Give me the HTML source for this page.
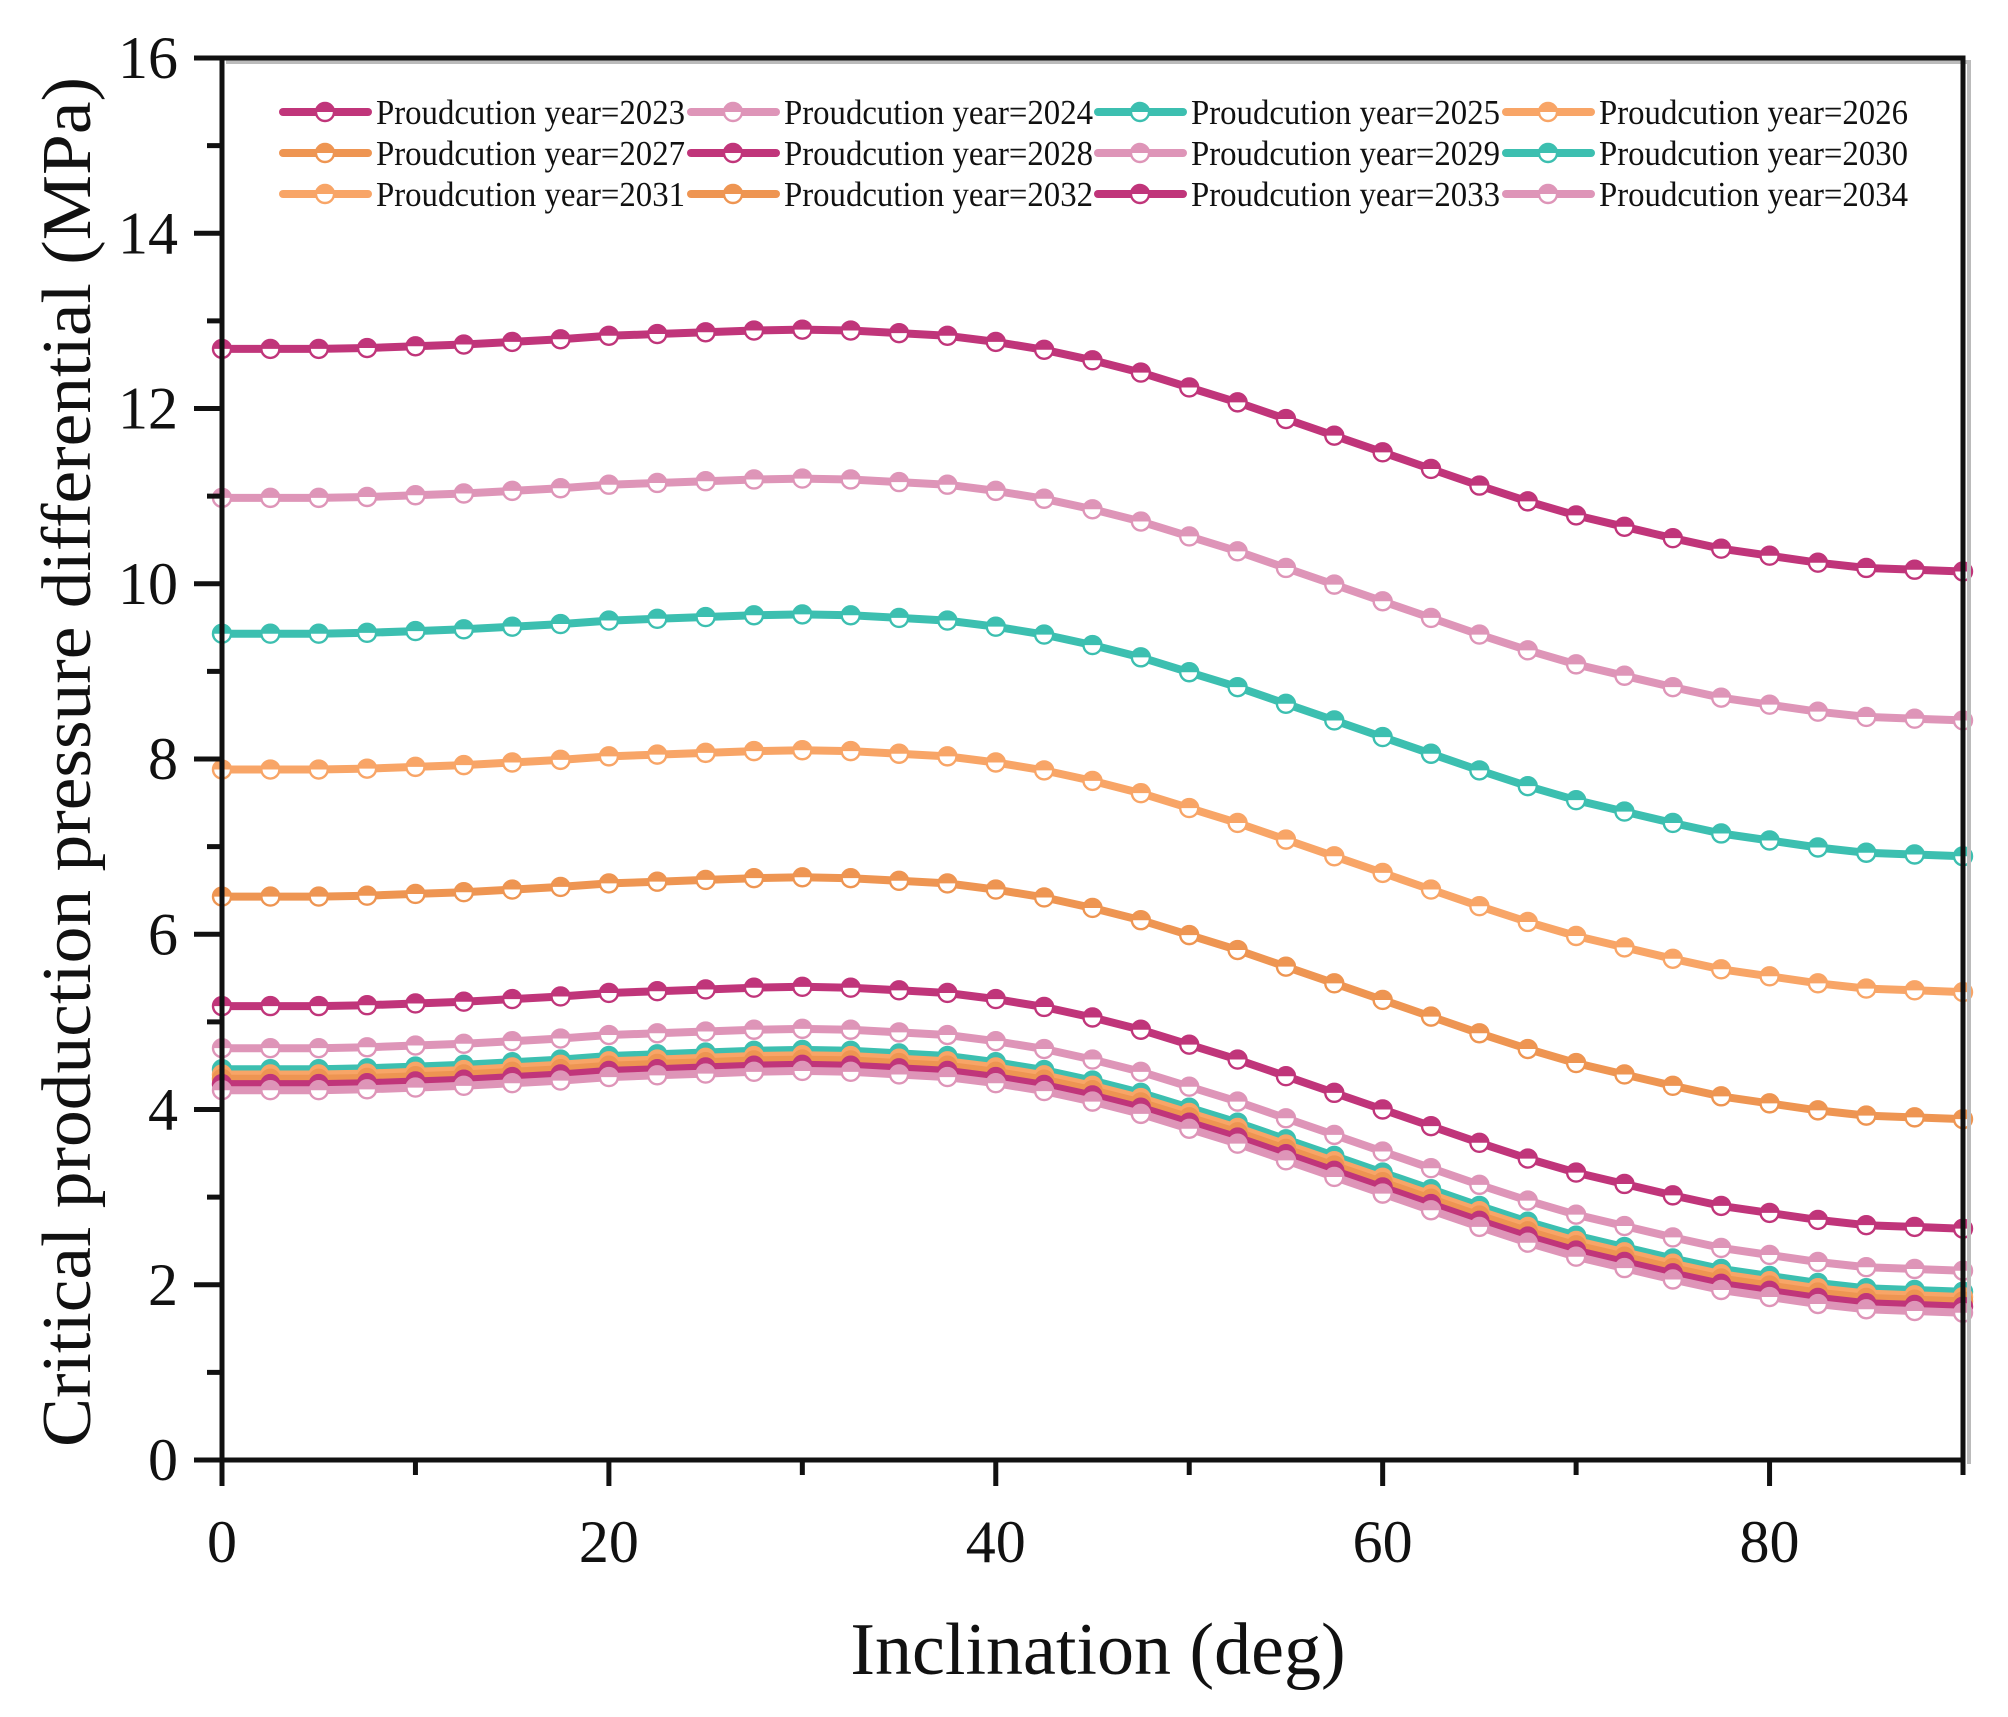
<!DOCTYPE html>
<html>
<head>
<meta charset="utf-8">
<style>
html,body{margin:0;padding:0;background:#fff;}
svg{display:block;font-family:"Liberation Serif",serif;}
</style>
</head>
<body>
<svg id="chart" width="2008" height="1717" viewBox="0 0 2008 1717" xmlns="http://www.w3.org/2000/svg">
  <rect x="0" y="0" width="2008" height="1717" fill="#fff"/>
  <g id="series-layer"></g>
  <g id="axes-layer"></g>
  <g id="legend-layer"></g>
  <text x="1098" y="1674" font-size="74" text-anchor="middle" fill="#111">Inclination (deg)</text>
  <text transform="translate(90,762) rotate(-90)" font-size="70" text-anchor="middle" fill="#111" textLength="1370" lengthAdjust="spacingAndGlyphs">Critical production pressure differential (MPa)</text>
</svg>
<script>
const xValues = [0,2.5,5,7.5,10,12.5,15,17.5,20,22.5,25,27.5,30,32.5,35,37.5,40,42.5,45,47.5,50,52.5,55,57.5,60,62.5,65,67.5,70,72.5,75,77.5,80,82.5,85,87.5,90];
const seriesNames = ["2023","2024","2025","2026","2027","2028","2029","2030","2031","2032","2033","2034"];
const s2023 = [12.68,12.68,12.68,12.69,12.71,12.73,12.76,12.79,12.83,12.85,12.87,12.89,12.90,12.89,12.86,12.83,12.76,12.67,12.55,12.41,12.24,12.07,11.88,11.69,11.50,11.31,11.12,10.94,10.78,10.65,10.52,10.40,10.32,10.24,10.18,10.16,10.14];
const s2024 = [10.98,10.98,10.98,10.99,11.01,11.03,11.06,11.09,11.13,11.15,11.17,11.19,11.20,11.19,11.16,11.13,11.06,10.97,10.85,10.71,10.54,10.37,10.18,9.99,9.80,9.61,9.42,9.24,9.08,8.95,8.82,8.70,8.62,8.54,8.48,8.46,8.44];
const s2025 = [9.43,9.43,9.43,9.44,9.46,9.48,9.51,9.54,9.58,9.60,9.62,9.64,9.65,9.64,9.61,9.58,9.51,9.42,9.30,9.16,8.99,8.82,8.63,8.44,8.25,8.06,7.87,7.69,7.53,7.40,7.27,7.15,7.07,6.99,6.93,6.91,6.89];
const s2026 = [7.88,7.88,7.88,7.89,7.91,7.93,7.96,7.99,8.03,8.05,8.07,8.09,8.10,8.09,8.06,8.03,7.96,7.87,7.75,7.61,7.44,7.27,7.08,6.89,6.70,6.51,6.32,6.14,5.98,5.85,5.72,5.60,5.52,5.44,5.38,5.36,5.34];
const s2027 = [6.43,6.43,6.43,6.44,6.46,6.48,6.51,6.54,6.58,6.60,6.62,6.64,6.65,6.64,6.61,6.58,6.51,6.42,6.30,6.16,5.99,5.82,5.63,5.44,5.25,5.06,4.87,4.69,4.53,4.40,4.27,4.15,4.07,3.99,3.93,3.91,3.89];
const s2028 = [5.18,5.18,5.18,5.19,5.21,5.23,5.26,5.29,5.33,5.35,5.37,5.39,5.40,5.39,5.36,5.33,5.26,5.17,5.05,4.91,4.74,4.57,4.38,4.19,4.00,3.81,3.62,3.44,3.28,3.15,3.02,2.90,2.82,2.74,2.68,2.66,2.64];
const s2029 = [4.70,4.70,4.70,4.71,4.73,4.75,4.78,4.81,4.85,4.87,4.89,4.91,4.92,4.91,4.88,4.85,4.78,4.69,4.57,4.43,4.26,4.09,3.90,3.71,3.52,3.33,3.14,2.96,2.80,2.67,2.54,2.42,2.34,2.26,2.20,2.18,2.16];
const s2030 = [4.46,4.46,4.46,4.47,4.49,4.51,4.54,4.57,4.61,4.63,4.65,4.67,4.68,4.67,4.64,4.61,4.54,4.45,4.33,4.19,4.02,3.85,3.66,3.47,3.28,3.09,2.90,2.72,2.56,2.43,2.30,2.18,2.10,2.02,1.96,1.94,1.92];
const s2031 = [4.40,4.40,4.40,4.41,4.43,4.45,4.48,4.51,4.55,4.57,4.59,4.61,4.62,4.61,4.58,4.55,4.48,4.39,4.27,4.13,3.96,3.79,3.60,3.41,3.22,3.03,2.84,2.66,2.50,2.37,2.24,2.12,2.04,1.96,1.90,1.88,1.86];
const s2032 = [4.35,4.35,4.35,4.36,4.38,4.40,4.43,4.46,4.50,4.52,4.54,4.56,4.57,4.56,4.53,4.50,4.43,4.34,4.22,4.08,3.91,3.74,3.55,3.36,3.17,2.98,2.79,2.61,2.45,2.32,2.19,2.07,1.99,1.91,1.85,1.83,1.81];
const s2033 = [4.29,4.29,4.29,4.30,4.32,4.34,4.37,4.40,4.44,4.46,4.48,4.50,4.51,4.50,4.47,4.44,4.37,4.28,4.16,4.02,3.85,3.68,3.49,3.30,3.11,2.92,2.73,2.55,2.39,2.26,2.13,2.01,1.93,1.85,1.79,1.77,1.75];
const s2034 = [4.22,4.22,4.22,4.23,4.25,4.27,4.30,4.33,4.37,4.39,4.41,4.43,4.44,4.43,4.40,4.37,4.30,4.21,4.09,3.95,3.78,3.61,3.42,3.23,3.04,2.85,2.66,2.48,2.32,2.19,2.06,1.94,1.86,1.78,1.72,1.70,1.68];
const xTickLabels = ["0","20","40","60","80"];
const yTickLabels = ["0","2","4","6","8","10","12","14","16"];

const allSeries = [s2023,s2024,s2025,s2026,s2027,s2028,s2029,s2030,s2031,s2032,s2033,s2034];
const palette = ["#c0357a","#de95b8","#3cbfb0","#f8a567","#ee9552"];
const colorIdx = [0,1,2,3,4,0,1,2,3,4,0,1];

const NS = "http://www.w3.org/2000/svg";
const X0 = 222, X1 = 1963, Y0 = 1460, Y1 = 58;
const xMin = 0, xMax = 90, yMin = 0, yMax = 16;
function xScale(v){ return X0 + (v - xMin) / (xMax - xMin) * (X1 - X0); }
function yScale(v){ return Y0 - (v - yMin) / (yMax - yMin) * (Y0 - Y1); }
function mk(tag, attrs){ const e = document.createElementNS(NS, tag); for (const k in attrs) e.setAttribute(k, attrs[k]); return e; }

function marker(parent, cx, cy, color, r){
  const g = mk("g", {});
  g.appendChild(mk("circle", {cx:cx, cy:cy, r:r, fill:"#fff", stroke:color, "stroke-width":2.4}));
  g.appendChild(mk("path", {d:`M${cx-r},${cy} A${r},${r} 0 0 1 ${cx+r},${cy} Z`, fill:color}));
  parent.appendChild(g);
  return g;
}

const sl = document.getElementById("series-layer");
allSeries.forEach((data, i) => {
  const color = palette[colorIdx[i]];
  const g = mk("g", {});
  
  
  const pts = data.map((v, j) => xScale(xValues[j]).toFixed(1) + "," + yScale(v).toFixed(1)).join(" ");
  const line = mk("polyline", {points:pts, fill:"none", stroke:color, "stroke-width":8, "stroke-linejoin":"round"});
  
  
  g.appendChild(line);
  data.forEach((v, j) => {
    const m = marker(g, xScale(xValues[j]), yScale(v), color, 9);
    
    
  });
  sl.appendChild(g);
});

const al = document.getElementById("axes-layer");
al.appendChild(mk("path", {d:`M${X0+4},${Y1+4} H${X1+6} V${Y0+4}`, fill:"none", stroke:"#bbb", "stroke-width":4}));
const frame = mk("path", {d:`M${X0},${Y1} H${X1} V${Y0} H${X0} Z`, fill:"none", stroke:"#111", "stroke-width":5});


al.appendChild(frame);
for (let v = 0; v <= 90; v += 10) {
  const major = v % 20 === 0;
  const t = mk("line", {x1:xScale(v), x2:xScale(v), y1:Y0, y2:Y0 + (major ? 26 : 15), stroke:"#111", "stroke-width":5});
  
  
  al.appendChild(t);
}
xTickLabels.forEach(s => {
  const t = mk("text", {x:xScale(+s), y:1562, "font-size":60, "text-anchor":"middle", fill:"#111"});
  t.textContent = s;
  
  
  al.appendChild(t);
});
for (let v = 0; v <= 16; v += 1) {
  const major = v % 2 === 0;
  const t = mk("line", {x1:X0 - (major ? 28 : 15), x2:X0, y1:yScale(v), y2:yScale(v), stroke:"#111", "stroke-width":5});
  
  
  al.appendChild(t);
}
yTickLabels.forEach(s => {
  const t = mk("text", {x:178, y:yScale(+s) + 20, "font-size":60, "text-anchor":"end", fill:"#111"});
  t.textContent = s;
  
  
  al.appendChild(t);
});

const ll = document.getElementById("legend-layer");
const colX = [283, 691, 1098, 1506];
const rowY = [112, 153, 194];
seriesNames.forEach((n, i) => {
  const cx = colX[i % 4], cy = rowY[Math.floor(i / 4)];
  const color = palette[colorIdx[i]];
  const g = mk("g", {});
  
  
  g.appendChild(mk("line", {x1:cx, x2:cx + 85, y1:cy, y2:cy, stroke:color, "stroke-width":8, "stroke-linecap":"round"}));
  marker(g, cx + 42, cy, color, 9);
  const t = mk("text", {x:cx + 93, y:cy + 12, "font-size":35, fill:"#111", textLength:309, lengthAdjust:"spacingAndGlyphs"});
  t.textContent = "Proudcution year=" + n;
  g.appendChild(t);
  ll.appendChild(g);
});
</script>
</body>
</html>
